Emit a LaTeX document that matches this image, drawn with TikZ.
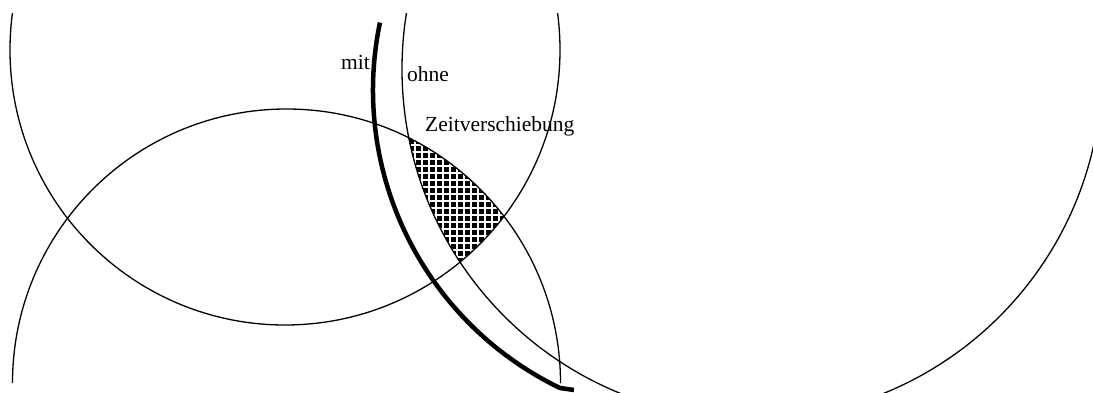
\documentclass[tikz,border=0pt]{standalone}
\usepackage{fontspec}
\setmainfont{Liberation Serif}
\begin{document}
\begin{tikzpicture}[x=1pt,y=-1pt,
  kreis/.style={black, line width=1.3pt},
  gitter/.style={white, line width=1.7pt},
  lbl/.style={anchor=base west, inner sep=0pt, font=\fontsize{21.5}{25}\selectfont}]
  \useasboundingbox (0,0) rectangle (1093,393);
  % Schnittmenge schraffiert
  \begin{scope}
    \clip (285,50) circle (275);
    \clip (286.5,383) circle (274);
    \clip (752,69) circle (350);
    \fill[black] (400,130) rectangle (510,270);
    \foreach \gx in {401,408,...,510} \draw[gitter] (\gx,130) -- (\gx,270);
    \foreach \gy in {131,138,...,270} \draw[gitter] (400,\gy) -- (510,\gy);
  \end{scope}
  \begin{scope}
    \clip (0,14) rectangle (1093,393);
    \draw[kreis] (285,50) circle (275);
    \draw[kreis] (752,69) circle (350);
  \end{scope}
  \draw[kreis] (12.5,383) arc[start angle=180, end angle=360, radius=274];
  \draw[black, line width=4.5pt] (704,90) ++(191.75:331) arc[start angle=191.75, end angle=115.8, radius=331] -- ++(14,2);
  \node[lbl] (mit) at (341,70) {mit};
  \node[lbl] (ohne) at (407,82) {ohne};
  \node[lbl] (zeit) at (425,132) {Zeitverschiebung};
\end{tikzpicture}
\end{document}
